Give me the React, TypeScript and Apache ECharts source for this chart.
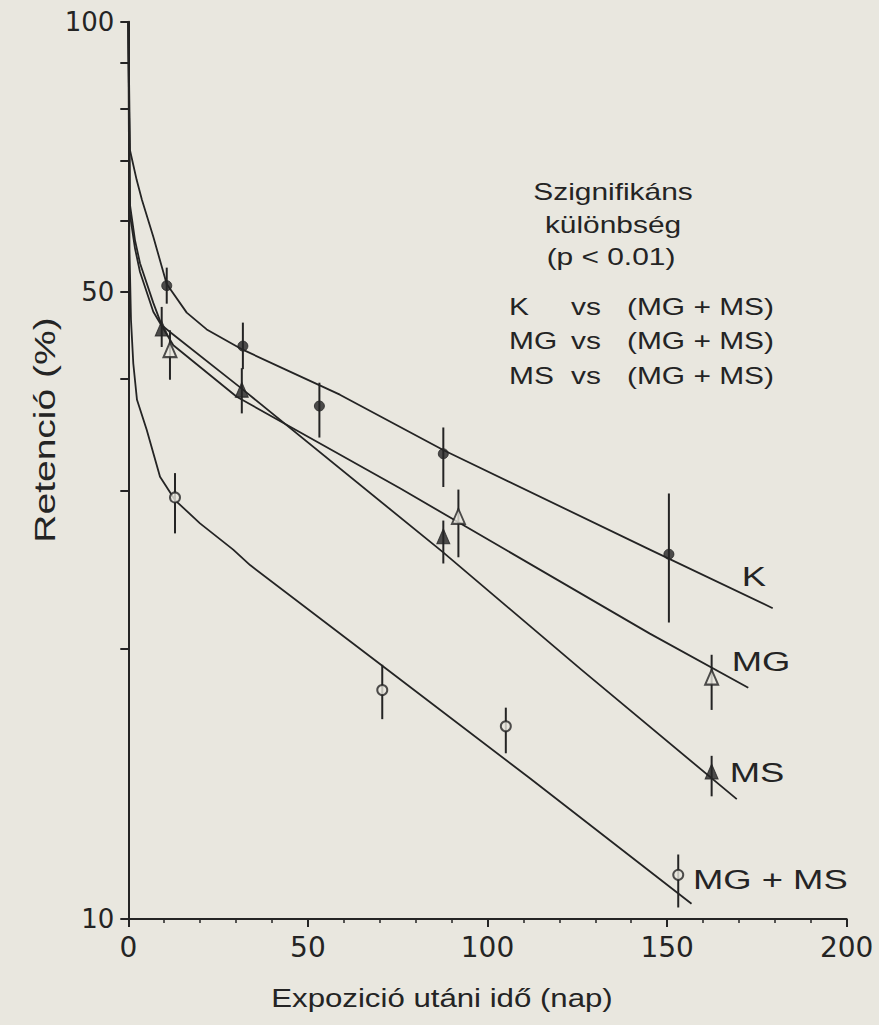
import React, { useEffect, useRef } from "react";
import * as echarts from "echarts";

// ---------- axes ----------
const xTickLabels = [0, 50, 100, 150, 200];
const yTickValues = [10, 20, 30, 40, 50, 60, 70, 80, 90, 100];
const yLabelValues = [10, 50, 100];

// ---------- fitted curves (day, retention %) ----------
const kCurveT = [0, 0.47, 2.34, 3.81, 6.96, 10.69, 16.26, 21.83, 31.85, 44.1, 58.9, 87.8, 145.2, 179.4];
const kCurveV = [100, 71.9, 66.6, 63.3, 57.6, 51.0, 47.4, 45.4, 43.1, 40.9, 38.4, 33.3, 25.8, 22.2];

const mgCurveT = [0, 0.47, 1.86, 3.26, 6.96, 12.53, 30.18, 75.64, 145.2, 172.6];
const mgCurveV = [100, 60.9, 55.9, 52.6, 47.5, 43.6, 38.2, 30.2, 20.8, 18.1];

const msCurveT = [0, 0.47, 1.86, 3.26, 6.96, 9.29, 11.6, 31.57, 87.25, 126.2, 169.4];
const msCurveV = [100, 62.5, 57.1, 53.8, 48.6, 45.9, 45.1, 39.0, 25.7, 18.95, 13.6];

const mgmsCurveT = [0, 0.33, 0.75, 1.39, 2.42, 5.12, 8.83, 13.0, 19.96, 29.2, 33.9, 70.7, 111.8, 156.8];
const mgmsCurveV = [100, 55.7, 46.5, 41.6, 37.9, 35.1, 31.1, 29.3, 27.6, 25.8, 24.8, 19.15, 14.35, 10.4];

// ---------- measured points with error bars ----------
const kT = [10.7, 31.9, 53.2, 87.7, 150.5];
const kV = [50.8, 43.5, 37.3, 33.0, 25.5];
const kLo = [48.5, 41.0, 34.4, 30.3, 21.4];
const kHi = [53.2, 46.2, 39.6, 35.3, 29.8];

const mgT = [11.6, 91.9, 162.4];
const mgV = [43.1, 28.1, 18.6];
const mgLo = [39.9, 25.3, 17.1];
const mgHi = [45.3, 30.1, 19.7];

const msT = [9.3, 31.6, 87.7, 162.4];
const msV = [45.5, 38.9, 26.7, 14.6];
const msLo = [43.4, 36.6, 24.9, 13.7];
const msHi = [48.1, 41.1, 27.8, 15.2];

const mgmsT = [13.0, 70.7, 105.1, 153.1];
const mgmsV = [29.5, 18.0, 16.4, 11.2];
const mgmsLo = [26.9, 16.7, 15.3, 10.3];
const mgmsHi = [31.4, 19.2, 17.2, 11.8];

// ---------- texts ----------
const yTitle = "Retenció (%)";
const xTitle = "Expozició utáni idő (nap)";
const sigLines = ["Szignifikáns", "különbség", "(p < 0.01)"];
const cmpFirst = ["K", "MG", "MS"];
const cmpVs = "vs";
const cmpRest = "(MG + MS)";
const curveLabels = ["K", "MG", "MS", "MG + MS"];

const INK = "#242424";
const PAPER = "#e9e7df";
const FONT = "'Liberation Sans', Arial, sans-serif";
const NUMFONT = "'DejaVu Sans', 'Liberation Sans', sans-serif";

const zip = (a: number[], b: number[]) => a.map((v, i) => [v, b[i]]);
const zip3 = (a: number[], b: number[], c: number[]) => a.map((v, i) => [v, b[i], c[i]]);

function txt(text: string, x: number, y: number, size: number, align: string, opts: any = {}) {
  return {
    type: "text",
    x,
    y,
    scaleX: opts.scaleX ?? 1.3,
    rotation: opts.rotation ?? 0,
    silent: true,
    z: 10,
    style: {
      text,
      fill: INK,
      font: `${size}px ${FONT}`,
      fontSize: size,
      fontFamily: FONT,
      align,
      textAlign: align,
      verticalAlign: "middle",
      textVerticalAlign: "middle",
    },
  };
}

export default function App() {
  const ref = useRef<HTMLDivElement>(null);

  useEffect(() => {
    if (!ref.current) return;
    const chart = echarts.init(ref.current, null, { renderer: "svg" });

    const curve = (name: string, t: number[], v: number[]) => ({
      name,
      type: "line",
      data: zip(t, v),
      showSymbol: false,
      symbol: "none",
      smooth: false,
      lineStyle: { color: INK, width: 1.8, join: "round" },
      z: 2,
      silent: true,
    });

    const errBars = (name: string, t: number[], lo: number[], hi: number[]) => ({
      name,
      type: "custom",
      data: zip3(t, lo, hi),
      encode: { x: 0, y: [1, 2] },
      z: 3,
      silent: true,
      renderItem: (_p: any, api: any) => {
        const x = api.value(0);
        const p1 = api.coord([x, api.value(1)]);
        const p2 = api.coord([x, api.value(2)]);
        return {
          type: "line",
          shape: { x1: p1[0], y1: p1[1], x2: p2[0], y2: p2[1] },
          style: { stroke: INK, lineWidth: 2 },
        };
      },
    });

    const marks = (name: string, t: number[], v: number[], symbol: string, size: any, open: boolean) => ({
      name,
      type: "scatter",
      data: zip(t, v),
      symbol,
      symbolSize: size,
      z: 4,
      silent: true,
      itemStyle: open
        ? { color: PAPER, borderColor: INK, borderWidth: 2 }
        : { color: INK, borderColor: INK, borderWidth: 1 },
    });

    const graphics: any[] = [
      txt(sigLines[0], 613, 192, 23, "center"),
      txt(sigLines[1], 613, 225, 23, "center"),
      txt(sigLines[2], 611, 257, 23, "center"),
    ];
    const rowsY = [307, 341, 376];
    cmpFirst.forEach((f, i) => {
      graphics.push(txt(f, 509, rowsY[i], 23, "left"));
      graphics.push(txt(cmpVs, 571, rowsY[i], 23, "left"));
      graphics.push(txt(cmpRest, 627, rowsY[i], 23, "left"));
    });
    graphics.push(txt(curveLabels[0], 754, 577, 28, "center"));
    graphics.push(txt(curveLabels[1], 761, 662, 28, "center"));
    graphics.push(txt(curveLabels[2], 757, 773, 28, "center"));
    graphics.push(txt(curveLabels[3], 693, 880, 28, "left"));
    graphics.push(txt(yTitle, 45, 430, 30, "center", { rotation: Math.PI / 2, scaleX: 1.3 }));
    graphics.push(txt(xTitle, 442, 998, 26, "center", { scaleX: 1.2 }));

    const option: any = {
      animation: false,
      backgroundColor: PAPER,
      grid: { left: 128.3, right: 32.3, top: 21.7, bottom: 106 },
      xAxis: {
        type: "value",
        min: xTickLabels[0],
        max: xTickLabels[xTickLabels.length - 1],
        interval: 50,
        axisLine: { show: true, lineStyle: { color: INK, width: 2 } },
        axisTick: { show: true, inside: false, length: 8, lineStyle: { color: INK, width: 2 } },
        minorTick: { show: true, splitNumber: 5, length: 4, lineStyle: { color: INK, width: 1.5 } },
        axisLabel: { color: INK, fontSize: 28, fontFamily: NUMFONT, margin: 14 },
        splitLine: { show: false },
        minorSplitLine: { show: false },
      },
      yAxis: {
        type: "log",
        logBase: 10,
        min: 10,
        max: 100,
        axisLine: { show: true, lineStyle: { color: INK, width: 2 } },
        axisTick: {
          show: true,
          inside: false,
          length: 8,
          customValues: yTickValues,
          lineStyle: { color: INK, width: 2 },
        },
        axisLabel: {
          color: INK,
          fontSize: 26,
          fontFamily: NUMFONT,
          margin: 14,
          customValues: yLabelValues,
        },
        splitLine: { show: false },
      },
      graphic: graphics,
      series: [
        curve("K", kCurveT, kCurveV),
        curve("MG", mgCurveT, mgCurveV),
        curve("MS", msCurveT, msCurveV),
        curve("MG + MS", mgmsCurveT, mgmsCurveV),
        errBars("K err", kT, kLo, kHi),
        errBars("MG err", mgT, mgLo, mgHi),
        errBars("MS err", msT, msLo, msHi),
        errBars("MG + MS err", mgmsT, mgmsLo, mgmsHi),
        marks("K pts", kT, kV, "circle", 10, false),
        marks("MG pts", mgT, mgV, "triangle", [13, 15], true),
        marks("MS pts", msT, msV, "triangle", [13, 15], false),
        marks("MG + MS pts", mgmsT, mgmsV, "circle", 10, true),
      ],
    };

    chart.setOption(option);
    return () => chart.dispose();
  }, []);

  return (
    <div
      ref={ref}
      style={{ position: "absolute", left: 0, top: 0, width: 879, height: 1025 }}
    />
  );
}
